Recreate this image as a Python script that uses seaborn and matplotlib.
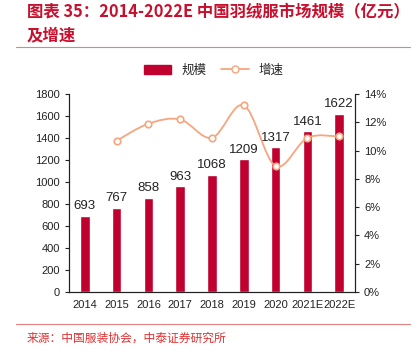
import matplotlib
matplotlib.use("Agg")
import matplotlib.pyplot as plt
from matplotlib.path import Path
from matplotlib.patches import PathPatch
from matplotlib.lines import Line2D
from matplotlib.patches import Patch
import seaborn as sns
import pandas as pd

# --- DATA ---
years = ["2014", "2015", "2016", "2017", "2018", "2019", "2020", "2021E", "2022E"]
market_size = [693, 767, 858, 963, 1068, 1209, 1317, 1461, 1622]
growth_years = ["2015", "2016", "2017", "2018", "2019", "2020", "2021E", "2022E"]
growth_pct = [10.7, 11.9, 12.2, 10.9, 13.2, 8.9, 10.9, 11.0]

BAR_COLOR = "#C0002F"
LINE_COLOR = "#F7A57E"
RED_TEXT = "#C8102E"

sns.set_style("white")
plt.rcParams['font.family'] = ['Liberation Sans', 'Noto Sans CJK SC', 'DejaVu Sans']

df = pd.DataFrame({"year": years, "size": market_size})

fig = plt.figure(figsize=(4.14, 3.56), dpi=100)
ax = fig.add_axes([69 / 414, 1 - 292 / 356, 286 / 414, 198 / 356])

sns.barplot(data=df, x="year", y="size", color=BAR_COLOR, width=0.3,
            saturation=1, ax=ax)
ax.set_xlim(-0.5, len(years) - 0.5)
ax.set_ylim(0, 1800)
ax.set_yticks(range(0, 1801, 200))
ax.set_xlabel("")
ax.set_ylabel("")
for i, v in enumerate(market_size):
    ax.text(i, v + 30, str(v), ha="center", va="bottom", fontsize=9.5, color="#222222")

# x ticks: labels centred, tick marks at category boundaries
ax.set_xticks(range(len(years)))
ax.set_xticklabels(years, fontsize=8, color="#222222")
ax.tick_params(axis="x", length=0, pad=6)
ax.set_xticks([i - 0.5 for i in range(len(years) + 1)], minor=True)
ax.tick_params(axis="x", which="minor", length=3, direction="inout", color="#222222")
ax.tick_params(axis="y", labelsize=8, length=3, direction="out", color="#222222",
               labelcolor="#222222", left=True)

# --- growth line on right axis ---
ax2 = ax.twinx()
ax2.set_ylim(0, 14)
ax2.set_yticks(range(0, 15, 2))
ax2.set_yticklabels([f"{t}%" for t in range(0, 15, 2)])
ax2.tick_params(axis="y", labelsize=8, length=3, direction="out", color="#222222",
                labelcolor="#222222", right=True)

gx = [years.index(y) for y in growth_years]
pts = list(zip(gx, growth_pct))
verts = [pts[0]]
codes = [Path.MOVETO]
for i in range(len(pts) - 1):
    p0 = pts[i - 1] if i > 0 else pts[i]
    p1, p2 = pts[i], pts[i + 1]
    p3 = pts[i + 2] if i + 2 < len(pts) else pts[i + 1]
    c1 = (p1[0] + (p2[0] - p0[0]) / 6, p1[1] + (p2[1] - p0[1]) / 6)
    c2 = (p2[0] - (p3[0] - p1[0]) / 6, p2[1] - (p3[1] - p1[1]) / 6)
    verts += [c1, c2, p2]
    codes += [Path.CURVE4] * 3
ax2.add_patch(PathPatch(Path(verts, codes), facecolor="none", edgecolor=LINE_COLOR, lw=1.3))
sns.scatterplot(x=gx, y=growth_pct, ax=ax2, marker="o", s=22, color="white",
                edgecolor=LINE_COLOR, linewidth=1.2, zorder=5)

for a in (ax, ax2):
    a.spines["top"].set_visible(False)
    for s in ("left", "right", "bottom"):
        a.spines[s].set_color("#222222")
        a.spines[s].set_linewidth(0.8)

# --- legend ---
handles = [Patch(facecolor=BAR_COLOR, edgecolor=BAR_COLOR),
           Line2D([0], [0], color=LINE_COLOR, lw=1.3, marker="o", markersize=5,
                  markerfacecolor="white", markeredgecolor=LINE_COLOR)]
fig.legend(handles, ["规模", "增速"], loc="center", bbox_to_anchor=(214 / 414, 1 - 70 / 356),
           ncol=2, frameon=False, handlelength=2.2, columnspacing=1.2,
           prop={"family": ["Noto Sans CJK SC"], "size": 9})

# --- title and source ---
title_font = ["Noto Sans CJK SC", "DejaVu Sans"]
fig.text(27 / 414, 1 - 12 / 356, "图表 35：2014-2022E 中国羽绒服市场规模（亿元）",
         fontsize=11.8, color=RED_TEXT, fontweight="bold", style="italic",
         va="center", ha="left", family=title_font)
fig.text(27 / 414, 1 - 35 / 356, "及增速", fontsize=11.8, color=RED_TEXT,
         fontweight="bold", style="italic", va="center", ha="left", family=title_font)
fig.add_artist(Line2D([16 / 414, 410 / 414], [1 - 47 / 356, 1 - 47 / 356],
                      color="#E58080", lw=0.8))
fig.add_artist(Line2D([16 / 414, 410 / 414], [1 - 324 / 356, 1 - 324 / 356],
                      color="#E58080", lw=0.8))
fig.text(27 / 414, 1 - 338 / 356, "来源：中国服装协会，中泰证券研究所", fontsize=8.5,
         color="#E03030", va="center", ha="left", family=title_font)

fig.savefig("out.png", dpi=100)
